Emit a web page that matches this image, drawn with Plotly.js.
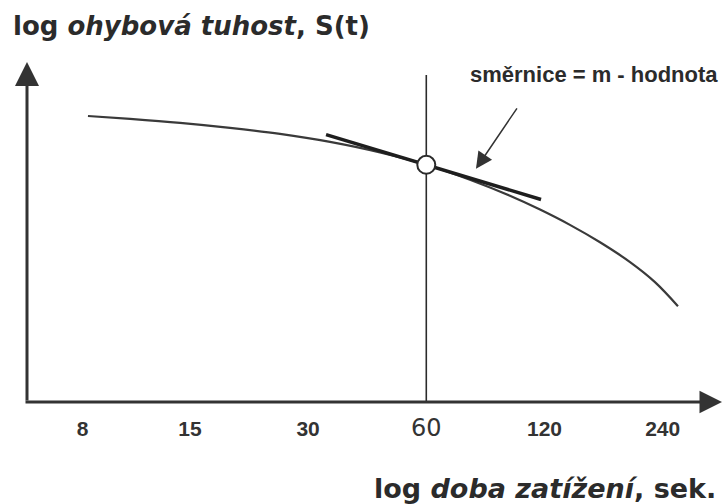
<!DOCTYPE html>
<html>
<head>
<meta charset="utf-8">
<script src="https://cdn.plot.ly/plotly-3.0.1.min.js"></script>
<style>html,body{margin:0;padding:0;background:#fff;}#chart{width:723px;height:504px;}</style>
</head>
<body>
<div id="chart"></div>
<script>
// ---- data ----
const tickValues = [8, 15, 30, 60, 120, 240];
const tickLabels = ['8', '15', '30', '<span style="font-family:DejaVu Sans;font-size:24px;font-weight:normal">60</span>', '120', '240'];
const curveTime = [8.25, 10.56, 14.16, 18.98, 25.44, 34.11, 45.73, 60, 77.5, 98.0, 116.9, 139.3, 166.2, 198.2, 229.4, 262.5];
const curveStiffness = [2.86, 2.831, 2.791, 2.741, 2.681, 2.601, 2.496, 2.372, 2.222, 2.062, 1.924, 1.771, 1.597, 1.399, 1.199, 0.958];
const tangentTime = [33.33, 117.6];
const tangentStiffness = [2.674, 2.025];
const pointTime = [60];
const pointStiffness = [2.372];
const guideTime = [60, 60];
const guideStiffness = [0, 3.27];
const arrowTipTime = 80.3;
const arrowTipStiffness = 2.332;

const ink = '#2b2b2b';

const traces = [
  {x: guideTime, y: guideStiffness, mode: 'lines', line: {color: ink, width: 1.6}, cliponaxis: false, hoverinfo: 'skip'},
  {x: curveTime, y: curveStiffness, mode: 'lines', line: {color: '#3a3a3a', width: 2.2, shape: 'spline', smoothing: 1}, cliponaxis: false, hoverinfo: 'skip'},
  {x: tangentTime, y: tangentStiffness, mode: 'lines', line: {color: '#1e1e1e', width: 3.4}, cliponaxis: false, hoverinfo: 'skip'},
  {x: pointTime, y: pointStiffness, mode: 'markers', marker: {size: 18, color: '#ffffff', line: {color: ink, width: 2}}, cliponaxis: false, hoverinfo: 'skip'}
];

const textFont = {family: 'DejaVu Sans', size: 26, color: ink, weight: 'bold'};

const layout = {
  width: 723, height: 504,
  margin: {l: 27, r: 1, t: 62, b: 102, pad: 0},
  paper_bgcolor: '#ffffff', plot_bgcolor: '#ffffff',
  showlegend: false,
  xaxis: {
    type: 'log', range: [0.7612, 2.5313],
    tickvals: tickValues, ticktext: tickLabels,
    showgrid: false, zeroline: false, showline: false, ticks: '',
    tickfont: {family: 'Liberation Sans', size: 21, color: '#333', weight: 'bold'},
    ticklabelstandoff: 12, fixedrange: true
  },
  yaxis: {
    range: [0, 3.4], showgrid: false, zeroline: false, showline: false,
    showticklabels: false, ticks: '', fixedrange: true
  },
  annotations: [
    // y axis arrow
    {xref: 'paper', yref: 'paper', x: 0, y: 1, ax: 0, ay: 340, text: '', showarrow: true,
     arrowhead: 2, arrowsize: 1.6, arrowwidth: 3, arrowcolor: '#333', standoff: 0, startstandoff: 0},
    // x axis arrow
    {xref: 'paper', yref: 'paper', x: 1, y: 0, ax: -698, ay: 0, text: '', showarrow: true,
     arrowhead: 2, arrowsize: 1.5, arrowwidth: 3, arrowcolor: '#333', standoff: 0, startstandoff: 0},
    // slope pointer
    {xref: 'x', yref: 'y', x: Math.log10(arrowTipTime), y: arrowTipStiffness, ax: 42, ay: -62, text: '', showarrow: true,
     arrowhead: 2, arrowsize: 2.2, arrowwidth: 1.5, arrowcolor: '#333', standoff: 0, startstandoff: 0},
    // slope label
    {xref: 'paper', yref: 'paper', x: (720 - 27) / 695, y: (402 - 75) / 340, xanchor: 'right', yanchor: 'middle',
     text: 'směrnice = m - hodnota', showarrow: false,
     font: {family: 'Liberation Sans', size: 22, color: ink, weight: 'bold'}},
    // y title
    {xref: 'paper', yref: 'paper', x: (11 - 27) / 695, y: (402 - 26) / 340, xanchor: 'left', yanchor: 'middle',
     text: 'log <i>ohybová tuhost</i>, S(t)', showarrow: false, font: textFont},
    // x title
    {xref: 'paper', yref: 'paper', x: (718 - 27) / 695, y: (402 - 488) / 340, xanchor: 'right', yanchor: 'middle',
     text: 'log <i>doba zatížení</i>, sek.', showarrow: false, font: Object.assign({}, textFont, {size: 27})}
  ]
};

Plotly.newPlot('chart', traces, layout, {staticPlot: true, displayModeBar: false});
</script>
</body>
</html>
